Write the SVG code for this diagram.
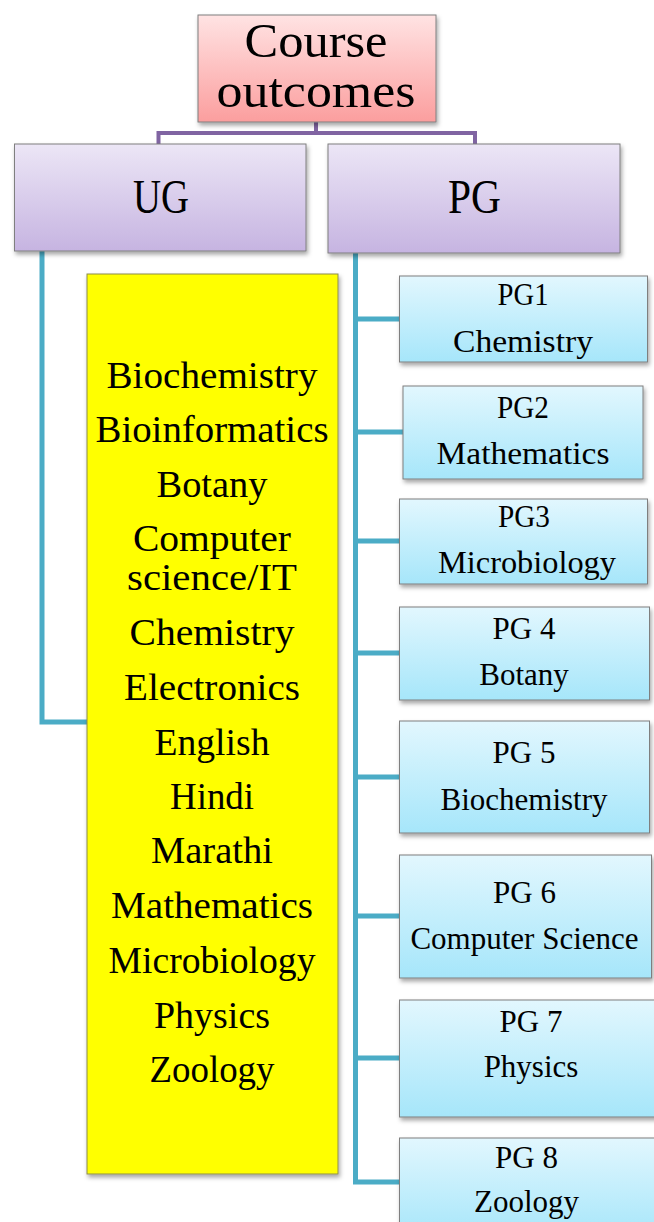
<svg xmlns="http://www.w3.org/2000/svg" width="654" height="1222" viewBox="0 0 654 1222">
<defs>
<linearGradient id="gPink" x1="0" y1="0" x2="0" y2="1"><stop offset="0" stop-color="#ffe3e3"/><stop offset="1" stop-color="#fb9e9e"/></linearGradient>
<linearGradient id="gPurple" x1="0" y1="0" x2="0" y2="1"><stop offset="0" stop-color="#ece6f6"/><stop offset="1" stop-color="#c6b4e1"/></linearGradient>
<linearGradient id="gCyan" x1="0" y1="0" x2="0" y2="1"><stop offset="0" stop-color="#e2f7fe"/><stop offset="1" stop-color="#a6e6fa"/></linearGradient>
<filter id="sh" x="-10%" y="-10%" width="125%" height="125%"><feDropShadow dx="1.5" dy="3" stdDeviation="2" flood-color="#000" flood-opacity="0.35"/></filter>
</defs>
<style>
.box{stroke:#7f7f7f;stroke-width:1;filter:url(#sh)}
.pink{fill:url(#gPink)}
.purple{fill:url(#gPurple)}
.cyan{fill:url(#gCyan)}
.yellow{fill:#ffff00;stroke:#8c8c50}
text{font-family:"Liberation Serif","DejaVu Serif",serif;fill:#000;text-anchor:middle}
.big{font-size:49px}
.ug{font-size:38px}
.pg{font-size:31px}
.conP{fill:none;stroke:#8064a2;stroke-width:4}
.conT{fill:none;stroke:#4bacc6;stroke-width:5}
</style>
<rect width="654" height="1222" fill="#fff"/>
<g id="connectors">
<path class="conP" d="M316,122 V133 M158.5,144 V133 H475 V144"/>
<path class="conT" d="M42,251 V722 H87"/>
<path class="conT" d="M355.5,253 V1182 H399 M355.5,319 H399 M355.5,432 H403 M355.5,541 H399 M355.5,653 H399 M355.5,777 H399 M355.5,916 H399 M355.5,1058 H399"/>
</g>
<g id="root">
<rect class="box pink" x="198" y="15" width="238" height="107"/>
<text class="big" x="316" y="57" textLength="143" lengthAdjust="spacingAndGlyphs">Course</text>
<text class="big" x="316" y="107" textLength="199" lengthAdjust="spacingAndGlyphs">outcomes</text>
</g>
<g id="ug">
<rect class="box purple" x="14.5" y="144" width="291.5" height="107"/>
<text class="big" x="161" y="213" textLength="56" lengthAdjust="spacingAndGlyphs">UG</text>
</g>
<g id="pg">
<rect class="box purple" x="328" y="144" width="292" height="109"/>
<text class="big" x="474.5" y="213" textLength="53" lengthAdjust="spacingAndGlyphs">PG</text>
</g>
<g id="ug-list">
<rect class="box yellow" x="87" y="274" width="251" height="900"/>
<text class="ug" x="212" y="388" textLength="211" lengthAdjust="spacingAndGlyphs">Biochemistry</text>
<text class="ug" x="212" y="442" textLength="233" lengthAdjust="spacingAndGlyphs">Bioinformatics</text>
<text class="ug" x="212" y="497" textLength="111" lengthAdjust="spacingAndGlyphs">Botany</text>
<text class="ug" x="212" y="551" textLength="158" lengthAdjust="spacingAndGlyphs">Computer</text>
<text class="ug" x="212" y="590" textLength="170" lengthAdjust="spacingAndGlyphs">science/IT</text>
<text class="ug" x="212" y="645" textLength="165" lengthAdjust="spacingAndGlyphs">Chemistry</text>
<text class="ug" x="212" y="700" textLength="176" lengthAdjust="spacingAndGlyphs">Electronics</text>
<text class="ug" x="212" y="755" textLength="115" lengthAdjust="spacingAndGlyphs">English</text>
<text class="ug" x="212" y="809" textLength="84" lengthAdjust="spacingAndGlyphs">Hindi</text>
<text class="ug" x="212" y="863" textLength="122" lengthAdjust="spacingAndGlyphs">Marathi</text>
<text class="ug" x="212" y="918" textLength="202" lengthAdjust="spacingAndGlyphs">Mathematics</text>
<text class="ug" x="212" y="973" textLength="207" lengthAdjust="spacingAndGlyphs">Microbiology</text>
<text class="ug" x="212" y="1028" textLength="116" lengthAdjust="spacingAndGlyphs">Physics</text>
<text class="ug" x="212" y="1082" textLength="125" lengthAdjust="spacingAndGlyphs">Zoology</text>
</g>
<g id="pg1">
<rect class="box cyan" x="399.5" y="276" width="248" height="86"/>
<text class="pg" x="523" y="305" textLength="51" lengthAdjust="spacingAndGlyphs">PG1</text>
<text class="pg" x="523" y="352" textLength="140" lengthAdjust="spacingAndGlyphs">Chemistry</text>
</g>
<g id="pg2">
<rect class="box cyan" x="403" y="386" width="240" height="93"/>
<text class="pg" x="523" y="418" textLength="52" lengthAdjust="spacingAndGlyphs">PG2</text>
<text class="pg" x="523" y="464" textLength="173" lengthAdjust="spacingAndGlyphs">Mathematics</text>
</g>
<g id="pg3">
<rect class="box cyan" x="399.5" y="499" width="248" height="85"/>
<text class="pg" x="524" y="527" textLength="52" lengthAdjust="spacingAndGlyphs">PG3</text>
<text class="pg" x="527" y="573" textLength="178" lengthAdjust="spacingAndGlyphs">Microbiology</text>
</g>
<g id="pg4">
<rect class="box cyan" x="399.5" y="607" width="250" height="93"/>
<text class="pg" x="524" y="639">PG 4</text>
<text class="pg" x="524" y="685">Botany</text>
</g>
<g id="pg5">
<rect class="box cyan" x="399.5" y="721" width="250" height="112"/>
<text class="pg" x="524" y="763">PG 5</text>
<text class="pg" x="524" y="810">Biochemistry</text>
</g>
<g id="pg6">
<rect class="box cyan" x="399.5" y="855" width="252" height="123"/>
<text class="pg" x="524.5" y="903">PG 6</text>
<text class="pg" x="524.5" y="949">Computer Science</text>
</g>
<g id="pg7">
<rect class="box cyan" x="399.5" y="1000" width="264" height="117"/>
<text class="pg" x="531" y="1032">PG 7</text>
<text class="pg" x="531" y="1077">Physics</text>
</g>
<g id="pg8">
<rect class="box cyan" x="399.5" y="1138" width="264" height="100"/>
<text class="pg" x="526.5" y="1168">PG 8</text>
<text class="pg" x="526.5" y="1212">Zoology</text>
</g>
</svg>
